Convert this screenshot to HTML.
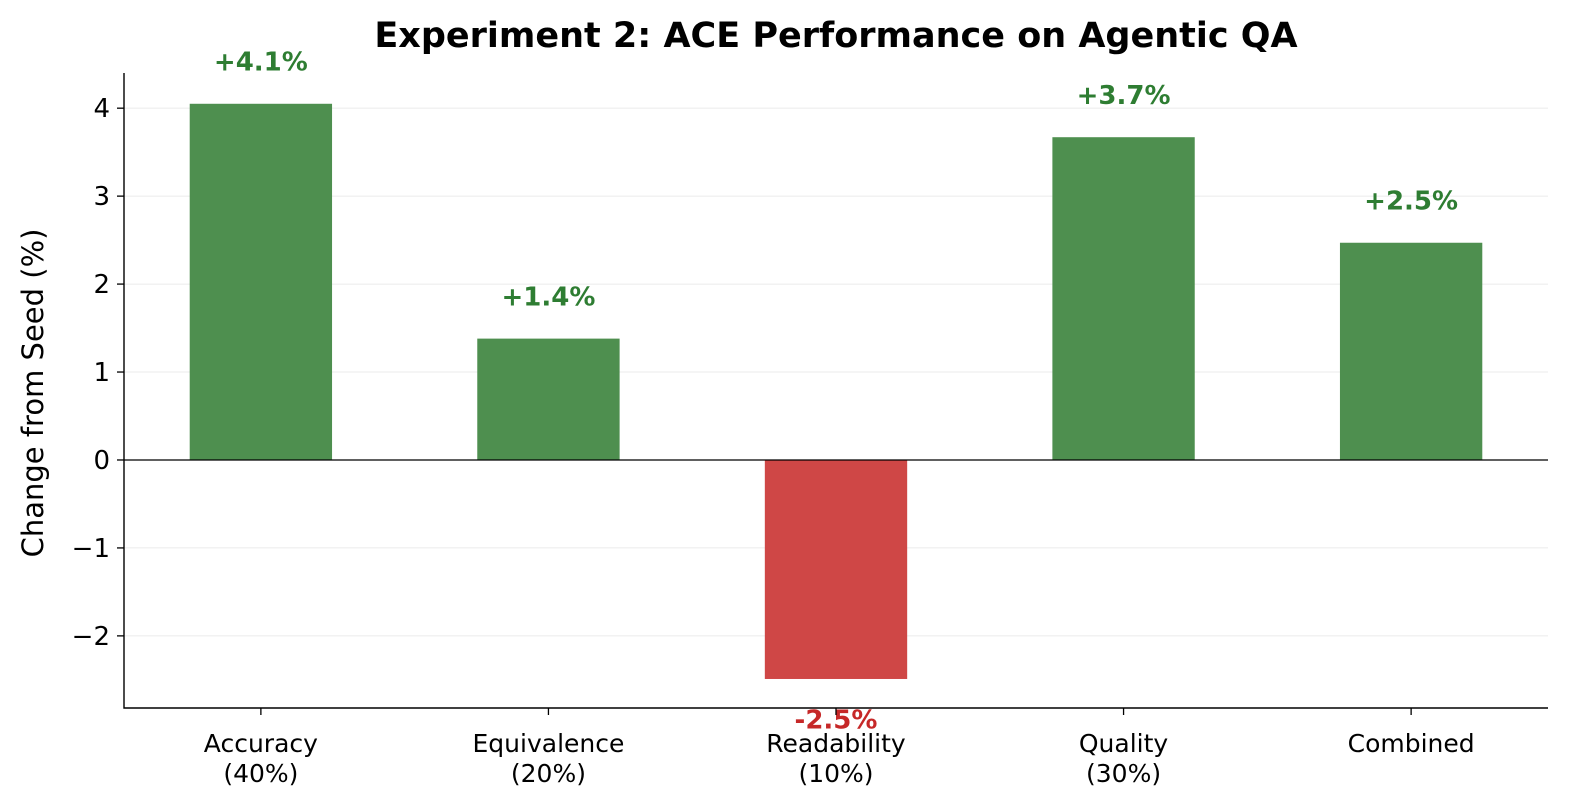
<!DOCTYPE html>
<html><head><meta charset="utf-8"><style>
body{margin:0;background:#fff;}
svg{display:block;font-family:"DejaVu Sans","Liberation Sans",sans-serif;}
</style></head><body>
<svg id="chart" width="1573" height="812" viewBox="0 0 1573 812" xmlns="http://www.w3.org/2000/svg">
<text x="836" y="47" text-anchor="middle" font-size="35" font-weight="bold" fill="#000">Experiment 2: ACE Performance on Agentic QA</text>
<text transform="translate(43,393) rotate(-90)" text-anchor="middle" font-size="29" fill="#000">Change from Seed (%)</text>
<g id="grid"></g><g id="bars"></g><g id="labels"></g><g id="axes"></g>
</svg>
<script>
const categories = ["Accuracy|(40%)","Equivalence|(20%)","Readability|(10%)","Quality|(30%)","Combined"];
const values = [4.05, 1.38, -2.49, 3.67, 2.47];
const valueLabels = ["+4.1%","+1.4%","-2.5%","+3.7%","+2.5%"];
const yTicks = [-2,-1,0,1,2,3,4];
const yTickLabels = ["\u22122","\u22121","0","1","2","3","4"];

const NS="http://www.w3.org/2000/svg";
const X0=124, X1=1548, Y0=73, Y1=708;
const xmin=-0.476, xmax=4.476, ymin=-2.82, ymax=4.4;
const sx=v=>X0+(v-xmin)/(xmax-xmin)*(X1-X0);
const sy=v=>Y1-(v-ymin)/(ymax-ymin)*(Y1-Y0);
function mk(tag,attrs,parent,text){const e=document.createElementNS(NS,tag);for(const k in attrs)e.setAttribute(k,attrs[k]);if(text!==undefined)e.textContent=text;document.getElementById(parent).appendChild(e);return e;}
yTicks.forEach((t,i)=>{
  const g=mk('line',{x1:X0,x2:X1,y1:sy(t),y2:sy(t),stroke:'#ebebeb','stroke-width':1},'grid');
  
  
  const tk=mk('line',{x1:X0-7,x2:X0,y1:sy(t),y2:sy(t),stroke:'#000','stroke-width':1.3},'axes');
  
  
  const tl=mk('text',{x:X0-14,y:sy(t)+9,'text-anchor':'end','font-size':26,fill:'#000'},'axes',yTickLabels[i]);
  
  
});
const bw=0.495;
values.forEach((v,i)=>{
  const top=sy(Math.max(v,0)), bot=sy(Math.min(v,0));
  const b=mk('rect',{x:sx(i-bw/2),y:top,width:sx(i+bw/2)-sx(i-bw/2),height:bot-top,fill:v>=0?'#4e8f4f':'#cf4746'},'bars');
  
  
  const ly=v>=0?sy(v+0.48)+9:sy(v-0.46)+9;
  const l=mk('text',{x:sx(i),y:ly,'text-anchor':'middle','font-size':26,'font-weight':'bold',fill:v>=0?'#2e7d32':'#c62828'},'labels',valueLabels[i]);
  
  
  const tk=mk('line',{x1:sx(i),x2:sx(i),y1:Y1,y2:Y1+7,stroke:'#000','stroke-width':1.3},'axes');
  
  
  categories[i].split('|').forEach((s,j)=>{
    const t=mk('text',{x:sx(i),y:752+j*30,'text-anchor':'middle','font-size':25,fill:'#000'},'axes',s);
    
    
  });
});
const z=mk('line',{x1:X0,x2:X1,y1:sy(0),y2:sy(0),stroke:'#000','stroke-width':1.3},'axes');


const ax=mk('path',{d:`M${X0},${Y0}V${Y1}H${X1}`,fill:'none',stroke:'#000','stroke-width':1.4},'axes');


</script>
</body></html>
